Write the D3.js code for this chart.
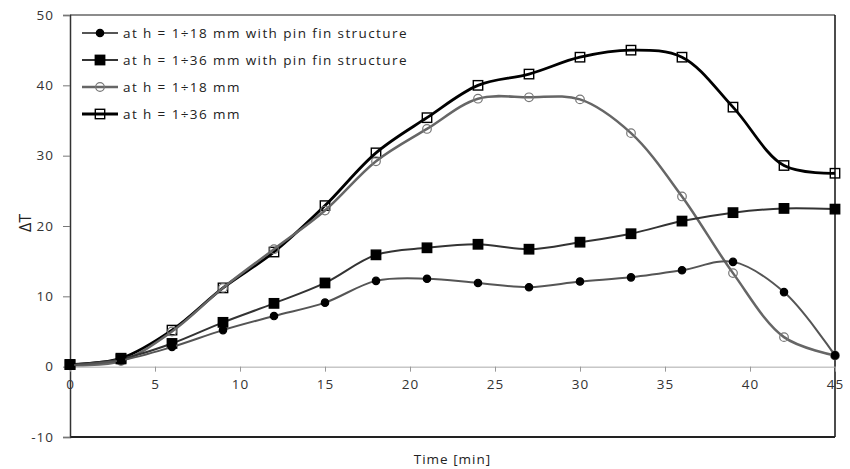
<!DOCTYPE html>
<html>
<head>
<meta charset="utf-8">
<script src="https://cdn.jsdelivr.net/npm/d3@7"></script>
<style>
  body { margin: 0; background: #fff; }
  svg text { font-family: "Open Sans", "DejaVu Sans", sans-serif; fill: #222; }
</style>
</head>
<body>
<svg id="chart" width="850" height="469"></svg>
<script>
// Data: time in minutes, temperature difference
const times = [0, 3, 6, 9, 12, 15, 18, 21, 24, 27, 30, 33, 36, 39, 42, 45];
const pin18 = [0.2, 0.9, 2.8, 5.2, 7.2, 9.1, 12.2, 12.5, 11.9, 11.3, 12.1, 12.7, 13.7, 14.9, 10.6, 1.6];
const pin36 = [0.3, 1.1, 3.3, 6.3, 9.0, 11.9, 15.9, 16.9, 17.4, 16.7, 17.7, 18.9, 20.7, 21.9, 22.5, 22.4];
const plain18 = [0.2, 0.8, 5.0, 11.2, 16.7, 22.2, 29.2, 33.8, 38.1, 38.3, 38.0, 33.2, 24.2, 13.3, 4.2, 1.6];
const plain36 = [0.3, 1.2, 5.2, 11.2, 16.3, 22.9, 30.4, 35.4, 40.0, 41.6, 44.0, 45.0, 44.0, 36.9, 28.6, 27.5];
const seriesNames = [
  "at h = 1÷18 mm with pin fin structure",
  "at h = 1÷36 mm with pin fin structure",
  "at h = 1÷18 mm",
  "at h = 1÷36 mm"
];
const xTicks = [0, 5, 10, 15, 20, 25, 30, 35, 40, 45];
const yTicks = [-10, 0, 10, 20, 30, 40, 50];

const series = [
  { name: seriesNames[0], values: pin18, line: "#555", width: 2, marker: "circle", r: 3.7, fill: "#000", stroke: "#000" },
  { name: seriesNames[1], values: pin36, line: "#333", width: 2, marker: "square", r: 4.7, fill: "#000", stroke: "#000" },
  { name: seriesNames[2], values: plain18, line: "#666", width: 2.5, marker: "circle", r: 4.3, fill: "none", stroke: "#777" },
  { name: seriesNames[3], values: plain36, line: "#000", width: 2.8, marker: "square", r: 4.7, fill: "none", stroke: "#000" }
];

const svg = d3.select("#chart");
const margin = { left: 70, right: 15, top: 15, bottom: 32 };
const width = 850, height = 469;

const x = d3.scaleLinear().domain([0, 45]).range([margin.left, width - margin.right]);
const y = d3.scaleLinear().domain([-10, 50]).range([height - margin.bottom, margin.top]);

// Frame
svg.append("line").attr("x1", x(0)).attr("x2", x(45)).attr("y1", y(50)).attr("y2", y(50))
  .attr("stroke", "#666").attr("stroke-width", 1.5);
svg.append("line").attr("x1", x(45)).attr("x2", x(45)).attr("y1", y(50)).attr("y2", y(-10))
  .attr("stroke", "#111").attr("stroke-width", 1.5);
svg.append("line").attr("x1", x(0)).attr("x2", x(45)).attr("y1", y(-10)).attr("y2", y(-10))
  .attr("stroke", "#222").attr("stroke-width", 1.8);

// Y axis
const yAxis = svg.append("g")
  .attr("transform", `translate(${x(0)},0)`)
  .call(d3.axisLeft(y).tickValues(yTicks).tickSize(7).tickPadding(9).tickFormat(d => String(d)));
yAxis.select(".domain").attr("stroke", "#333").attr("stroke-width", 1.5);
yAxis.selectAll(".tick line").attr("stroke", "#777");
yAxis.selectAll("text").attr("font-size", 13.5).attr("letter-spacing", 1).style("fill", "#333");

// X axis at zero
const xAxis = svg.append("g")
  .attr("transform", `translate(0,${y(0)})`)
  .call(d3.axisBottom(x).tickValues(xTicks).tickSize(5).tickSizeOuter(0).tickPadding(8));
xAxis.select(".domain").attr("stroke", "#aaa");
xAxis.selectAll(".tick line").attr("stroke", "#999");
xAxis.selectAll("text").attr("font-size", 13.5).attr("letter-spacing", 1).style("fill", "#333");

// Axis titles
svg.append("text")
  .attr("x", (x(0) + x(45)) / 2).attr("y", 464)
  .attr("text-anchor", "middle").attr("font-size", 13.5).attr("letter-spacing", 1)
  .text("Time [min]");
svg.append("text")
  .attr("transform", `translate(31,${y(20) - 3}) rotate(-90)`)
  .attr("text-anchor", "middle").attr("font-size", 16)
  .text("ΔT");

const line = d3.line()
  .x((d, i) => x(times[i]))
  .y(d => y(d))
  .curve(d3.curveCatmullRom.alpha(0.5));

function drawMarker(g, s, cx, cy) {
  if (s.marker === "circle") {
    g.append("circle").attr("cx", cx).attr("cy", cy).attr("r", s.r)
      .attr("fill", s.fill).attr("stroke", s.stroke).attr("stroke-width", 1.2);
  } else {
    g.append("rect").attr("x", cx - s.r).attr("y", cy - s.r).attr("width", s.r * 2).attr("height", s.r * 2)
      .attr("fill", s.fill).attr("stroke", s.stroke).attr("stroke-width", 1.4);
  }
}

// Draw series in reverse order so the pin fin series sit on top
const plot = svg.append("g");
series.slice().reverse().forEach(s => {
  const g = plot.append("g");
  g.append("path").datum(s.values)
    .attr("d", line)
    .attr("fill", "none")
    .attr("stroke", s.line)
    .attr("stroke-width", s.width);
  s.values.forEach((v, i) => drawMarker(g, s, x(times[i]), y(v)));
});

// Legend
const legend = svg.append("g").attr("transform", "translate(82,33)");
series.forEach((s, i) => {
  const row = legend.append("g").attr("transform", `translate(0,${i * 27})`);
  row.append("line").attr("x1", 0).attr("x2", 36).attr("y1", 0).attr("y2", 0)
    .attr("stroke", s.line).attr("stroke-width", s.width);
  drawMarker(row, s, 18, 0);
  row.append("text").attr("x", 41).attr("y", 0).attr("dy", "0.35em")
    .attr("font-size", 13.5).attr("letter-spacing", 1.4).style("fill", "#222")
    .text(s.name);
});
</script>
</body>
</html>
